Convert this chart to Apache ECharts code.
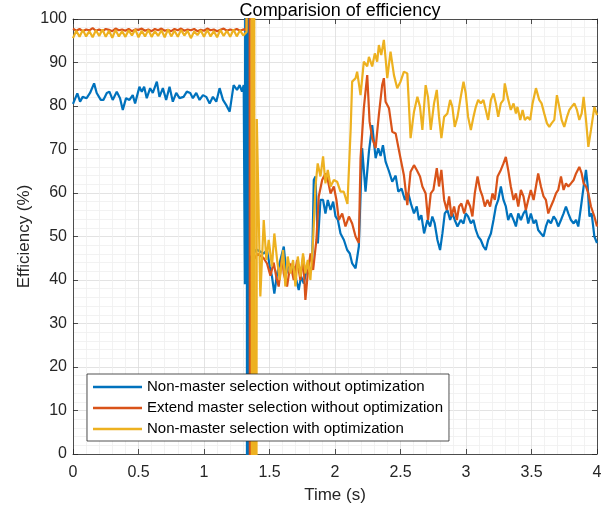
<!DOCTYPE html>
<html>
<head>
<meta charset="utf-8">
<script src="https://cdn.jsdelivr.net/npm/echarts@6/dist/echarts.min.js"></script>
<style>
html,body{margin:0;padding:0;background:#fff;}
#chart{width:615px;height:514px;}
</style>
</head>
<body>
<div id="chart"></div>
<script>
const titleText = 'Comparision of efficiency';
const xName = 'Time (s)';
const yName = 'Efficiency (%)';
const seriesNames = [
  'Non-master selection without optimization',
  'Extend master selection without optimization',
  'Non-master selection with optimization'
];
const seriesColors = ['#0072BD', '#D95319', '#EDB120'];

// Blue: Non-master selection without optimization  [time, efficiency]
const blueData = [
[0,80.5],[0.008,80.2],[0.033,82.9],[0.054,81.0],[0.074,82.1],[0.104,81.8],[0.13,83.0],[0.161,85.2],[0.181,83.0],[0.212,81.4],
[0.232,81.4],[0.258,83.0],[0.278,83.3],[0.303,81.4],[0.334,83.3],[0.359,81.8],[0.38,79.1],[0.405,81.8],[0.431,81.4],[0.456,82.5],
[0.474,80.6],[0.507,84.4],[0.525,83.3],[0.543,84.4],[0.563,81.8],[0.589,84.1],[0.609,83.0],[0.64,85.6],[0.66,82.1],[0.686,84.1],
[0.711,81.4],[0.737,84.4],[0.762,81.0],[0.788,83.0],[0.813,81.8],[0.844,82.1],[0.869,83.3],[0.895,83.0],[0.915,81.8],[0.941,83.0],
[0.966,81.4],[0.992,82.5],[1.017,82.1],[1.043,80.6],[1.068,82.1],[1.094,81.0],[1.119,84.1],[1.145,81.4],[1.17,80.2],[1.196,78.7],
[1.226,84.8],[1.252,83.7],[1.272,84.8],[1.29,83.3],[1.303,84.8],
[1.312,39.0],[1.325,400],[1.331,-400],[1.337,400],[1.343,-400],[1.35,45.0],[1.40,47.0],
[1.456,46.1],[1.481,46.9],[1.502,43.1],[1.519,40.8],[1.537,36.9],[1.558,41.5],[1.583,44.6],[1.609,47.7],[1.629,41.5],[1.647,43.8],
[1.665,42.3],[1.685,43.1],[1.705,40.0],[1.723,37.7],[1.741,40.8],[1.762,39.2],[1.782,42.3],[1.802,41.5],[1.825,43.1],[1.838,63.0],
[1.851,63.8],[1.869,48.4],[1.889,58.4],[1.909,58.4],[1.927,55.3],[1.945,58.4],[1.966,56.1],[1.986,58.0],[2.004,54.6],[2.022,53.8],
[2.042,50.7],[2.068,49.2],[2.093,46.9],[2.113,46.1],[2.131,43.8],[2.157,42.7],[2.182,47.7],[2.207,70.3],[2.233,60.3],[2.259,69.5],
[2.284,75.6],[2.31,68.0],[2.33,70.3],[2.348,68.5],[2.366,71.0],[2.386,67.2],[2.412,65.0],[2.437,62.6],[2.463,64.0],[2.483,60.3],
[2.508,61.0],[2.534,58.4],[2.559,60.0],[2.58,57.5],[2.603,55.3],[2.624,56.9],[2.641,53.8],[2.659,54.9],[2.68,50.7],[2.705,53.8],
[2.726,52.3],[2.743,54.6],[2.761,53.0],[2.782,49.2],[2.802,46.9],[2.82,50.7],[2.838,55.3],[2.858,56.1],[2.879,53.8],[2.896,55.3],
[2.914,53.8],[2.935,52.3],[2.96,53.8],[2.981,53.0],[2.998,55.3],[3.016,54.6],[3.037,53.0],[3.057,53.8],[3.075,51.5],[3.093,50.0],
[3.113,49.2],[3.133,47.7],[3.151,46.9],[3.169,49.2],[3.19,50.7],[3.21,53.8],[3.228,56.9],[3.246,58.4],[3.266,61.5],[3.286,58.4],
[3.304,56.9],[3.322,53.8],[3.342,55.3],[3.363,53.8],[3.381,52.3],[3.399,55.3],[3.419,53.8],[3.439,55.3],[3.457,56.1],[3.475,53.0],
[3.495,55.3],[3.516,53.0],[3.534,53.8],[3.551,51.5],[3.572,50.7],[3.592,50.0],[3.61,52.3],[3.628,53.8],[3.648,53.0],[3.669,54.6],
[3.687,53.8],[3.704,52.3],[3.725,53.8],[3.745,55.3],[3.763,56.9],[3.781,55.3],[3.801,53.8],[3.822,53.0],[3.84,53.8],[3.857,52.3],
[3.878,56.9],[3.898,61.5],[3.916,65.3],[3.929,61.5],[3.942,54.6],[3.959,55.3],[3.98,50.0],[4.0,48.5]
];

// Red: Extend master selection without optimization  [time, efficiency]
const redData = [
[0,97.8],[0.025,97.3],[0.05,97.7],[0.075,97.2],[0.1,97.6],[0.125,97.4],[0.15,97.9],[0.175,97.3],[0.2,97.6],[0.225,97.2],
[0.25,97.7],[0.275,97.5],[0.3,97.2],[0.325,97.8],[0.35,97.4],[0.375,97.6],[0.4,97.3],[0.425,97.7],[0.45,97.2],[0.475,97.6],
[0.5,97.5],[0.525,97.8],[0.55,97.3],[0.575,97.6],[0.6,97.2],[0.625,97.7],[0.65,97.4],[0.675,97.8],[0.7,97.3],[0.725,97.5],
[0.75,97.2],[0.775,97.7],[0.8,97.4],[0.825,97.8],[0.85,97.3],[0.875,97.6],[0.9,97.4],[0.925,97.7],[0.95,97.2],[0.975,97.5],
[1.0,97.3],[1.025,97.8],[1.05,97.4],[1.075,97.6],[1.1,97.2],[1.125,97.5],[1.15,97.8],[1.175,97.3],[1.2,97.6],[1.225,97.4],
[1.25,97.7],[1.275,97.3],[1.3,97.6],[1.325,97.5],
[1.346,400],[1.354,-400],[1.364,44.0],[1.41,46.0],
[1.456,45.0],[1.481,43.8],[1.507,41.0],[1.532,44.0],[1.553,40.5],[1.57,38.5],[1.596,45.4],[1.609,41.5],[1.634,38.5],[1.66,43.8],
[1.685,40.0],[1.711,44.6],[1.736,40.0],[1.757,45.4],[1.774,35.4],[1.792,41.5],[1.813,46.1],[1.833,42.3],[1.858,49.2],[1.876,59.2],
[1.902,63.0],[1.927,64.5],[1.945,63.0],[1.966,59.9],[1.991,61.5],[2.011,58.4],[2.029,53.8],[2.055,55.3],[2.08,52.3],[2.106,54.6],
[2.131,53.0],[2.157,50.0],[2.182,48.5],[2.195,68.0],[2.22,79.5],[2.246,87.1],[2.264,76.4],[2.284,72.6],[2.31,70.3],[2.335,78.0],
[2.36,84.8],[2.373,86.4],[2.386,81.0],[2.412,79.5],[2.437,74.1],[2.463,73.7],[2.475,73.3],[2.5,68.0],[2.526,64.1],[2.552,57.2],
[2.577,64.9],[2.603,66.4],[2.624,65.3],[2.649,63.8],[2.667,61.5],[2.692,59.9],[2.71,53.8],[2.731,59.9],[2.751,60.7],[2.777,65.7],
[2.794,61.5],[2.812,65.3],[2.833,58.4],[2.853,56.1],[2.871,59.2],[2.889,54.6],[2.909,56.9],[2.93,53.8],[2.947,56.9],[2.965,57.6],
[2.986,55.3],[3.011,58.4],[3.032,56.9],[3.049,54.6],[3.067,59.9],[3.088,63.8],[3.108,60.7],[3.126,59.2],[3.144,56.9],[3.164,58.4],
[3.184,56.9],[3.202,59.9],[3.22,58.4],[3.241,63.8],[3.266,65.3],[3.286,66.8],[3.304,68.3],[3.322,65.3],[3.342,61.5],[3.363,58.4],
[3.381,59.9],[3.399,56.9],[3.419,60.7],[3.439,59.2],[3.457,56.1],[3.475,58.4],[3.495,60.7],[3.516,58.4],[3.534,61.5],[3.551,64.5],
[3.572,61.5],[3.592,59.2],[3.61,58.4],[3.628,55.3],[3.648,56.9],[3.669,58.4],[3.687,59.9],[3.704,60.7],[3.725,63.8],[3.745,60.7],
[3.763,62.2],[3.781,61.5],[3.801,62.2],[3.822,63.0],[3.84,64.5],[3.865,66.0],[3.883,64.5],[3.898,62.2],[3.916,61.5],[3.934,59.9],
[3.954,56.9],[3.98,54.6],[4.0,52.3]
];

// Yellow: Non-master selection with optimization  [time, efficiency]
const yellowData = [
[0,95.6],[0.025,97.3],[0.05,95.9],[0.075,97.5],[0.1,96.0],[0.125,97.2],[0.15,95.8],[0.175,97.4],[0.2,96.1],[0.225,97.6],
[0.25,95.9],[0.275,97.3],[0.3,95.7],[0.325,97.5],[0.35,96.0],[0.375,97.2],[0.4,95.9],[0.425,97.4],[0.45,96.2],[0.475,97.6],
[0.5,95.8],[0.525,97.3],[0.55,96.0],[0.575,97.5],[0.6,95.9],[0.625,97.2],[0.65,96.1],[0.675,97.4],[0.7,95.8],[0.725,97.6],
[0.75,96.0],[0.775,97.3],[0.8,95.9],[0.825,97.5],[0.85,96.2],[0.875,97.3],[0.9,95.6],[0.925,97.1],[0.95,96.3],[0.975,97.4],
[1.0,95.9],[1.025,97.5],[1.05,96.0],[1.075,97.2],[1.1,95.8],[1.125,97.5],[1.15,96.1],[1.175,97.3],[1.2,95.9],[1.225,97.6],
[1.25,96.0],[1.275,97.4],[1.3,96.2],[1.325,97.0],
[1.36,400],[1.37,-400],[1.38,400],[1.39,-400],[1.403,77.0],[1.43,36.2],
[1.456,53.8],[1.476,44.6],[1.494,49.2],[1.519,43.1],[1.537,50.7],[1.558,44.6],[1.578,40.0],[1.604,46.9],[1.621,38.5],[1.639,45.4],
[1.66,41.5],[1.68,44.6],[1.698,38.5],[1.716,45.4],[1.736,40.8],[1.756,46.1],[1.774,41.5],[1.792,44.6],[1.812,40.0],[1.833,49.2],
[1.851,61.5],[1.868,66.8],[1.889,63.8],[1.909,68.4],[1.927,62.2],[1.945,65.3],[1.966,61.5],[1.991,63.0],[2.016,62.6],[2.042,60.3],
[2.067,60.3],[2.095,57.5],[2.12,75.0],[2.131,85.6],[2.157,86.4],[2.169,87.9],[2.195,82.5],[2.22,90.2],[2.246,89.1],[2.259,91.3],
[2.284,89.1],[2.304,92.1],[2.322,90.2],[2.335,94.0],[2.353,91.7],[2.373,95.2],[2.386,91.0],[2.399,86.4],[2.424,92.5],[2.45,87.1],
[2.475,84.1],[2.5,85.6],[2.526,87.9],[2.552,87.5],[2.577,72.6],[2.603,78.7],[2.629,82.1],[2.649,79.8],[2.667,74.5],[2.692,84.8],
[2.71,82.1],[2.731,74.5],[2.756,80.6],[2.777,83.7],[2.794,77.5],[2.812,72.6],[2.833,77.5],[2.858,78.3],[2.879,81.4],[2.896,79.8],
[2.914,75.2],[2.935,77.5],[2.96,82.1],[2.981,85.6],[2.998,82.9],[3.016,77.5],[3.037,74.5],[3.057,77.5],[3.075,79.8],[3.093,81.4],
[3.113,80.6],[3.133,81.4],[3.151,79.1],[3.169,76.8],[3.19,81.4],[3.21,82.9],[3.228,80.6],[3.246,77.5],[3.266,80.6],[3.286,81.4],
[3.296,85.2],[3.317,82.1],[3.342,79.1],[3.363,80.6],[3.381,78.3],[3.393,79.8],[3.414,76.8],[3.432,79.1],[3.449,76.8],[3.47,77.5],
[3.49,76.8],[3.508,80.6],[3.534,84.1],[3.559,81.4],[3.577,80.6],[3.597,78.3],[3.618,76.0],[3.636,75.2],[3.653,76.0],[3.674,76.8],
[3.694,82.5],[3.712,79.8],[3.73,76.8],[3.75,75.2],[3.771,77.5],[3.789,79.1],[3.806,79.8],[3.827,80.6],[3.847,79.1],[3.865,76.8],
[3.883,78.3],[3.898,82.1],[3.916,76.8],[3.934,70.6],[3.954,74.5],[3.98,79.8],[4.0,77.9]
];

const xTicks = { min: 0, max: 4, interval: 0.5 };
const yTicks = { min: 0, max: 100, interval: 10 };

const FONT = 'Liberation Sans, Arial, Helvetica, sans-serif';
const AX = '#262626';
const chart = echarts.init(document.getElementById('chart'), null, { renderer: 'canvas' });

function xLabel(v) { return String(v); }

const baseAxisCommon = {
  axisLine: { show: true, onZero: false, lineStyle: { color: AX, width: 0.8 } },
  axisTick: { show: true, inside: true, length: 5, lineStyle: { color: AX, width: 0.8 } },
  minorTick: { show: false },
};

chart.setOption({
  animation: false,
  backgroundColor: '#ffffff',
  title: {
    text: titleText, left: 335, top: -3, textAlign: 'center',
    textStyle: { fontFamily: FONT, fontSize: 18, fontWeight: 'normal', color: '#000' }
  },
  grid: { left: 73, right: 18, top: 19, bottom: 60, containLabel: false },
  legend: {
    show: true, orient: 'vertical', left: 87, top: 374, z: 100, zlevel: 1,
    data: seriesNames, icon: 'rect', itemWidth: 49, itemHeight: 2.5, itemGap: 3,
    padding: [4, 6, 3, 6],
    backgroundColor: '#ffffff', borderColor: AX, borderWidth: 0.8,
    textStyle: { fontFamily: FONT, fontSize: 15, color: '#000', lineHeight: 18 },
    selectedMode: false
  },
  xAxis: [
    Object.assign({}, baseAxisCommon, {
      type: 'value', position: 'bottom', min: xTicks.min, max: xTicks.max, interval: xTicks.interval,
      name: xName, nameLocation: 'middle', nameGap: 33, nameMoveOverlap: false,
      nameTextStyle: { fontFamily: FONT, fontSize: 17, color: AX },
      axisLabel: { fontFamily: FONT, fontSize: 16, color: AX, margin: 11, formatter: xLabel },
      splitLine: { show: true, lineStyle: { color: '#dcdcdc', width: 0.8 } },
      minorSplitLine: { show: true, lineStyle: { color: '#efefef', width: 0.8 } },
      minorTick: { show: false, splitNumber: 5 }
    }),
    Object.assign({}, baseAxisCommon, {
      type: 'value', position: 'top', min: xTicks.min, max: xTicks.max, interval: xTicks.interval,
      axisLabel: { show: false }, splitLine: { show: false }
    })
  ],
  yAxis: [
    Object.assign({}, baseAxisCommon, {
      type: 'value', position: 'left', min: yTicks.min, max: yTicks.max, interval: yTicks.interval,
      name: yName, nameLocation: 'middle', nameGap: 40, nameRotate: 90, nameMoveOverlap: false,
      nameTextStyle: { fontFamily: FONT, fontSize: 17, color: AX },
      axisLabel: { fontFamily: FONT, fontSize: 16, color: AX, margin: 6 },
      splitLine: { show: true, lineStyle: { color: '#dcdcdc', width: 0.8 } },
      minorSplitLine: { show: true, lineStyle: { color: '#efefef', width: 0.8 } },
      minorTick: { show: false, splitNumber: 5 }
    }),
    Object.assign({}, baseAxisCommon, {
      type: 'value', position: 'right', min: yTicks.min, max: yTicks.max, interval: yTicks.interval,
      axisLabel: { show: false }, splitLine: { show: false }
    })
  ],
  series: [blueData, redData, yellowData].map(function (d, i) {
    return {
      name: seriesNames[i], type: 'line', data: d, xAxisIndex: 0, yAxisIndex: 0,
      showSymbol: false, symbol: 'none', clip: true, smooth: false,
      color: seriesColors[i],
      lineStyle: { color: seriesColors[i], width: 2.2 },
      emphasis: { disabled: true }, silent: true, z: 2 + i
    };
  })
});
</script>
</body>
</html>
